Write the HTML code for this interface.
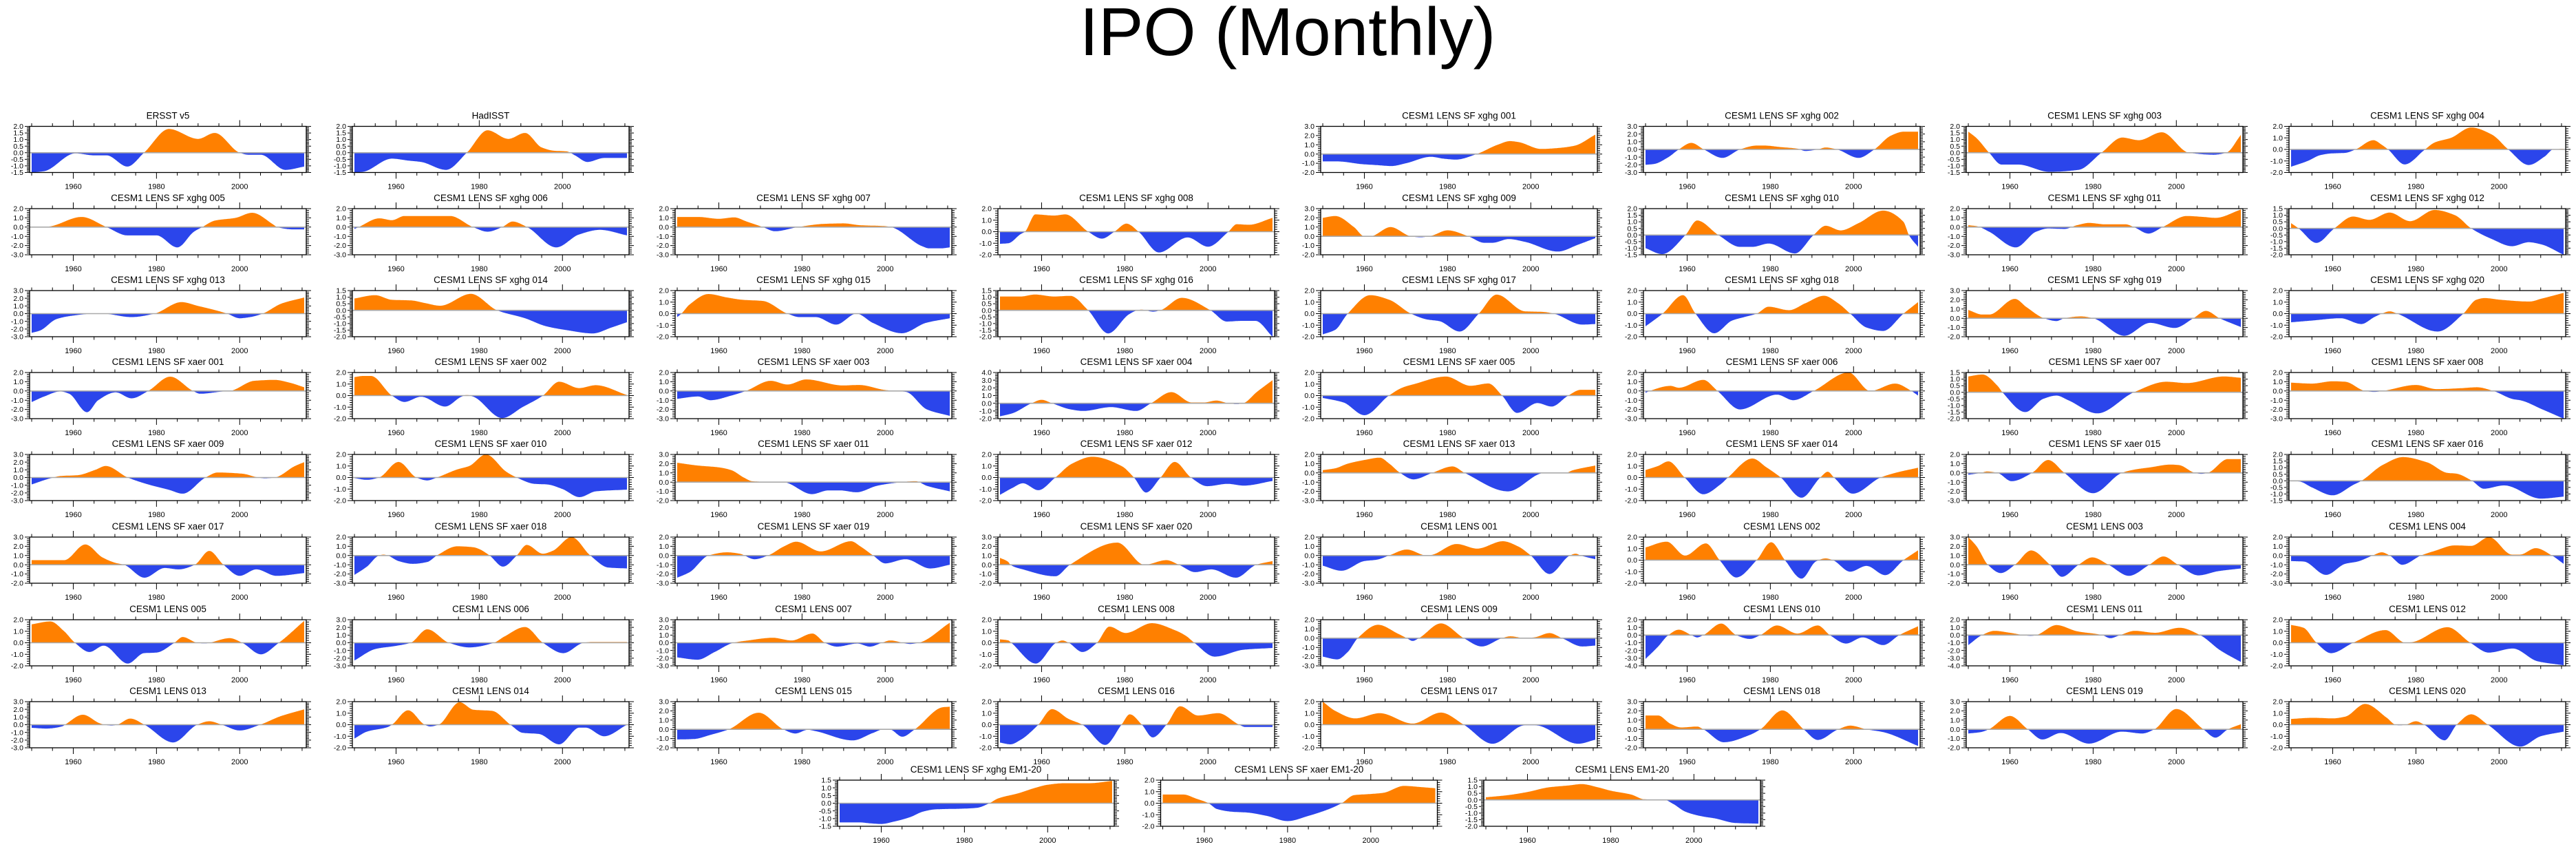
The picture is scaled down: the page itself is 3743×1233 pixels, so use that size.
<!DOCTYPE html>
<html><head><meta charset="utf-8"><title>IPO (Monthly)</title>
<style>
html,body{margin:0;padding:0;background:#fff;}
svg{display:block;font-family:"Liberation Sans",Arial,sans-serif;}
</style></head>
<body>
<svg id="fig" xmlns="http://www.w3.org/2000/svg" width="3743" height="1233" viewBox="0 0 3743 1233">
<rect x="0" y="0" width="3743" height="1233" fill="#fff"/>
<text x="1871" y="80" font-size="98" text-anchor="middle" fill="#000">IPO (Monthly)</text>
<g id="panels"></g>
</svg>
<script>
const panelNames = ["ERSST v5","HadISST","CESM1 LENS SF xghg 001","CESM1 LENS SF xghg 002","CESM1 LENS SF xghg 003","CESM1 LENS SF xghg 004",
"CESM1 LENS SF xghg 005","CESM1 LENS SF xghg 006","CESM1 LENS SF xghg 007","CESM1 LENS SF xghg 008","CESM1 LENS SF xghg 009","CESM1 LENS SF xghg 010","CESM1 LENS SF xghg 011","CESM1 LENS SF xghg 012",
"CESM1 LENS SF xghg 013","CESM1 LENS SF xghg 014","CESM1 LENS SF xghg 015","CESM1 LENS SF xghg 016","CESM1 LENS SF xghg 017","CESM1 LENS SF xghg 018","CESM1 LENS SF xghg 019","CESM1 LENS SF xghg 020",
"CESM1 LENS SF xaer 001","CESM1 LENS SF xaer 002","CESM1 LENS SF xaer 003","CESM1 LENS SF xaer 004","CESM1 LENS SF xaer 005","CESM1 LENS SF xaer 006","CESM1 LENS SF xaer 007","CESM1 LENS SF xaer 008",
"CESM1 LENS SF xaer 009","CESM1 LENS SF xaer 010","CESM1 LENS SF xaer 011","CESM1 LENS SF xaer 012","CESM1 LENS SF xaer 013","CESM1 LENS SF xaer 014","CESM1 LENS SF xaer 015","CESM1 LENS SF xaer 016",
"CESM1 LENS SF xaer 017","CESM1 LENS SF xaer 018","CESM1 LENS SF xaer 019","CESM1 LENS SF xaer 020","CESM1 LENS 001","CESM1 LENS 002","CESM1 LENS 003","CESM1 LENS 004",
"CESM1 LENS 005","CESM1 LENS 006","CESM1 LENS 007","CESM1 LENS 008","CESM1 LENS 009","CESM1 LENS 010","CESM1 LENS 011","CESM1 LENS 012",
"CESM1 LENS 013","CESM1 LENS 014","CESM1 LENS 015","CESM1 LENS 016","CESM1 LENS 017","CESM1 LENS 018","CESM1 LENS 019","CESM1 LENS 020",
"CESM1 LENS SF xghg EM1-20","CESM1 LENS SF xaer EM1-20","CESM1 LENS EM1-20"];

const yMin = [-1.5,-1.5,-2,-3,-1.5,-2, -3,-3,-3,-2,-2,-1.5,-3,-2, -3,-2,-2,-2,-2,-2,-2,-2, -3,-2,-3,-2,-2,-3,-2,-3,
 -3,-2,-2,-2,-3,-2,-3,-1.5, -2,-3,-3,-2,-3,-2,-2,-3, -2,-3,-3,-2,-3,-4,-4,-2, -3,-2,-2,-2,-2,-2,-2,-2, -1.5,-2,-2];
const yMax = [2,2,3,3,2,2, 2,2,2,2,3,2,2,1.5, 3,1.5,2,1.5,2,2,3,2, 2,2,2,4,2,2,1.5,2,
 3,2,3,2,2,2,2,2, 3,2,2,3,2,2,3,2, 2,3,3,2,2,2,2,2, 3,2,3,2,2,3,3,2, 1.5,2,1.5];

const xTickYears = [1960,1980,2000];
const xMinorYears = [1950,1955,1965,1970,1975,1985,1990,1995,2005,2010,2015];

const keyYears = [
[1950,1953,1960.5,1965,1968,1973,1977,1983,1990,1994,2000,2002,2005,2011,2015.5],
[1950,1952,1959,1963,1966,1972,1977,1982,1987,1991,1995,1998,2001,2003,2006,2010,2015.5],
[1950,1953.5,1959.5,1963,1966.5,1970,1976,1979,1982,1987,1992,1995,1997,2002.5,2006.5,2010.5,2015.5],
[1950,1952,1955.5,1958,1961,1964,1968.5,1972.7,1976.7,1978.6,1982.5,1986.5,1988.4,1991.4,1993.3,1996,2001.2,2005,2009,2012,2015.5],
[1950,1952,1955,1958,1962,1969.5,1976.5,1982,1987,1991,1996.5,2003,2009,2012,2015.5],
[1950,1954,1957,1959.6,1963,1965.5,1969.8,1971.8,1973.3,1977.3,1982.2,1984.5,1988.4,1993.3,1998.2,2002.2,2007.1,2011,2013,2015.5],
[1950,1954,1962,1968,1973,1980,1985,1989,1991,1994,1999,2003,2008,2009,2013,2015.5],
[1950,1951,1956,1959,1962,1973,1978.5,1982,1985.5,1988,1991.5,1998.5,2004,2009,2015.5],
[1950,1955,1960,1963.7,1966.7,1970.6,1973.5,1979,1985.3,1990,1994,2000,2001.4,2009,2010.5,2013.5,2015.5],
[1950,1952,1955,1956,1958.5,1963,1965.7,1971.2,1974.5,1977.5,1980.4,1983.3,1988.2,1995.1,2000,2004.9,2006.9,2009.8,2015.5],
[1950,1953,1957.5,1960,1961.4,1966.3,1971.2,1973.5,1976,1980,1985,1988.8,1990.8,1994.7,1998.6,2006.5,2011.4,2015.5],
[1950,1954,1959.6,1962.4,1967.5,1972.7,1975.7,1979.6,1985.9,1990.4,1993.3,1996.9,2001.2,2007.1,2012,2013.3,2015.5],
[1950,1952,1955,1961.4,1966.3,1969.2,1973.1,1976.1,1979,1982.9,1987.8,1989.8,1993.3,1996.7,2002.5,2006.5,2009.4,2015.5],
[1950,1951.8,1956.1,1960.4,1964.9,1968.8,1973.7,1978.6,1984.5,1989.4,1993.3,1998.2,2003.1,2007.1,2010,2015.5],
[1950,1952,1956,1960,1965,1967,1974,1979.5,1986,1990,1994.5,1997,2000,2002.5,2005.5,2010,2015.5],
[1950,1955,1959,1963.7,1967,1970.6,1978,1984.3,1991,1996,2001,2007.3,2011.8,2015.5],
[1950,1951,1953,1957.5,1962,1965.7,1970.6,1976.5,1979.4,1983.3,1988.2,1993.1,1997,2004,2009.8,2015.5],
[1950,1955,1958.4,1963,1966.9,1971.2,1976,1981,1983,1984,1986.8,1988.5,1993.7,2000.6,2004.5,2008,2011.4,2015.5],
[1950,1953,1956,1961.4,1966,1971.2,1975,1978,1982.9,1987.5,1991.8,1998.6,2003,2005.5,2012.4,2015.5],
[1950,1954.1,1959,1962,1966.5,1970.8,1973.7,1976.7,1979.6,1984.5,1988.4,1992.9,1996.3,1999.2,2003.1,2007.1,2012,2015.5],
[1950,1953.4,1955,1961.2,1964,1968.2,1971.2,1973.1,1977.1,1980,1987.5,1993.7,1999.6,2004.1,2007.1,2010.4,2015.5],
[1950,1955,1961.9,1966.9,1970,1971.8,1973.7,1975.5,1985.2,1991.4,1994.5,1996.5,2000.4,2007.3,2010.2,2015.5],
[1950,1953,1956.9,1959,1963.3,1966,1970.2,1974,1978,1983.3,1988.8,1990.5,1996,1997.6,2003.5,2008.4,2012,2015.5],
[1950,1952,1954,1959,1962,1966,1971.8,1975.7,1977,1978.6,1985.5,1990.4,1995.3,1999.2,2004,2008,2015.5],
[1950,1955,1958,1963,1966.5,1972.5,1976.5,1981,1989.8,1993.7,2000,2005,2010,2015.5],
[1950,1953,1957.6,1960,1962.5,1967,1970,1976.7,1982.7,1986.3,1991.2,1996.1,1999,2002,2004.9,2006.9,2008.4,2011.8,2015.5],
[1950,1955,1960,1965.9,1969.2,1972,1979.6,1985.5,1989.8,1993.1,1996.7,2001.6,2005,2009,2012,2015.5],
[1950,1951,1956,1958,1963.9,1967.3,1972.7,1981.6,1985.5,1990.4,1998.8,2004,2010,2013.9,2015.5],
[1950,1953.4,1957,1958.2,1963.7,1968,1971.2,1974,1981,1989.8,1997.6,2002.5,2011.4,2015.5],
[1950,1955,1960,1963,1967.8,1970,1972,1980,1985,1990.8,1994.7,1998.6,2003.5,2005,2010.4,2015.5],
[1950,1954.5,1957,1961,1965.3,1967.8,1973.1,1978,1983,1986.3,1991.8,1994.7,2000.6,2004.5,2006,2008.4,2013.3,2015.5],
[1950,1953,1955.9,1960.6,1964.9,1967.5,1969.8,1974.7,1977.6,1981.6,1986.5,1989,1993.3,1996.3,2000,2004.1,2008,2015.5],
[1950,1954.9,1960,1963,1966,1968,1970,1975.5,1982.4,1986.3,1989.2,1993.1,1998,2002,2007.3,2010,2015.5],
[1950,1953,1955.5,1959.2,1963.3,1967.3,1972.2,1979.2,1982.2,1985.1,1988.6,1992,1995.9,1999.8,2004.7,2008.6,2015.5],
[1950,1953,1956,1960,1963.7,1966,1968.6,1971.8,1976.3,1981.2,1984.1,1994.5,2003.3,2008,2010.2,2015.5],
[1950,1953,1955.5,1959.4,1963.9,1968,1969.8,1975.7,1979,1982.5,1987.5,1992,1993.8,1995.3,1999.8,2006.5,2010,2015.5],
[1950,1953,1954.5,1957,1960.4,1965.3,1969.2,1973.1,1980,1986.9,1989.8,1993.7,1998.6,2000.6,2004.5,2006,2007.5,2012.4,2015.5],
[1950,1952,1955,1960,1965,1966.9,1972,1976.9,1982.7,1987.6,1989.6,1993.5,1996.3,2001.2,2010,2015.5],
[1950,1955,1957.8,1962.9,1967,1970.2,1972.2,1977.1,1982,1985.3,1989.2,1992.7,1996.1,2000,2004,2008.8,2015.5],
[1950,1953,1955.9,1957,1958,1960.6,1964,1967.5,1969.8,1974.7,1978.6,1980,1982.5,1985.7,1989,1991.4,1995.3,1997.6,2002.2,2006.7,2011,2015.5],
[1950,1953,1957.5,1962,1965,1968.6,1971.8,1975.7,1978.6,1984.5,1991.8,1994,1997.1,2000,2004.9,2010.8,2015.5],
[1950,1952,1952.5,1955.5,1963.3,1966.8,1978.2,1984.7,1990,1993,1996.9,2000.8,2006.7,2011.6,2015.5],
[1950,1954.5,1960,1963,1965.9,1970.2,1975,1976,1982.2,1987.1,1993.3,1996.9,2000,2004.5,2009.4,2010.8,2012,2015.5],
[1950,1955.1,1959.5,1964.5,1967.8,1971.8,1976.7,1980.2,1983.5,1987.5,1991,1993.3,1995,1999.2,2003.1,2007.6,2012,2015.5],
[1950,1952,1954.7,1957.8,1961.2,1965.1,1969.6,1972.5,1976.5,1979.8,1983.7,1988.6,1993.5,1996.9,2000.4,2005.3,2010,2015.5],
[1950,1953,1958.4,1963,1966,1969.6,1971.8,1973.7,1976.7,1981.2,1984.5,1989.4,1993.3,1997.6,2003.1,2005,2008.8,2012.7,2015.5],
[1950,1954.5,1957.8,1960.4,1963.9,1967.3,1973.1,1977,1980,1984.3,1986.3,1989.8,1991.5,1997.6,2000.6,2005.1,2009.4,2015.5],
[1950,1955.1,1960,1963.5,1967.5,1972.7,1977.6,1983.5,1986,1991,1995.3,2000.2,2005.1,2007,2015.5],
[1950,1954.9,1959,1963.5,1967,1973,1977.5,1982.5,1985.5,1988.4,1993.3,1996.3,1999.2,2001.2,2006,2008,2015.5],
[1950,1952,1952.7,1958.6,1963.5,1965,1966.5,1969.8,1973.3,1976.3,1980.2,1986.5,1992,1994.7,1996.7,2001.6,2008.6,2015.5],
[1950,1953.5,1956,1958.4,1963.3,1968,1970.2,1971.6,1973.1,1978.4,1983.9,1988.2,1993.1,1995.1,1998.6,2001,2004.5,2007.5,2012.4,2015.5],
[1950,1953,1955.5,1958,1961,1962.4,1963.9,1968.2,1971.8,1975.1,1977.6,1981.6,1986.5,1991.4,1994.3,1998.2,2002.2,2007.1,2011,2015.5],
[1950,1953.3,1956.3,1960,1963.3,1965,1966.3,1971.2,1976.1,1982.2,1984.1,1986.5,1990,1994.9,2000.8,2005.7,2010.6,2015.5],
[1950,1953,1956.1,1959.6,1964.9,1972.7,1977.5,1979,1987.6,1993.1,1997.5,2003.3,2009.2,2015.5],
[1950,1953.5,1957.4,1958,1962.3,1966.3,1967.5,1969.2,1970.5,1973.7,1977.1,1984,1989.8,1992.7,1995.7,2000,2004.9,2009.8,2015.5],
[1950,1953,1958,1959,1962.9,1966.9,1968.2,1970.2,1975.3,1978.6,1983.1,1987.5,1990.4,1994.3,1999.2,2004.1,2005.5,2010,2015.5],
[1950,1954,1958,1962.4,1969.6,1975.5,1978.4,1981.4,1983.3,1992.2,1997,1999.6,2001,2004.1,2007.1,2013.9,2015.5],
[1950,1952.5,1955,1959.2,1962.5,1966.5,1969.8,1975.3,1979.2,1981.2,1984.1,1986.7,1990,1993.3,1997.6,2002.5,2007.5,2009,2015.5],
[1950,1953,1957.8,1963.7,1971.6,1978.4,1983.9,1990.8,1998.6,2001,2011.4,2015.5],
[1950,1953,1956,1958.6,1962.4,1963.9,1968.8,1975.1,1977.6,1982.9,1988,1991.4,1996.3,1999.2,2003.1,2007.1,2015.5],
[1950,1953,1954.9,1960,1964.3,1967.8,1972.2,1979,1986.9,1991.8,1994.7,2000,2006.5,2009.4,2012.4,2015.5],
[1950,1955.3,1960,1963,1967.8,1973,1975.1,1976,1977.5,1980,1982,1986.9,1989.8,1993.3,1997.3,2005.1,2010,2015.5],
[1950,1955,1957,1960,1963,1967,1970,1973,1980,1983,1986,1988,1993,1997,2000,2004,2010,2015.5],
[1950,1955,1958,1961,1963,1967,1970,1975,1980,1985,1990,1993,1996,2000,2003,2008,2012,2015.5],
[1950,1955,1960,1965,1970,1973,1977,1980,1985,1988,1993,1995,1998,2002,2005,2010,2015.5]
];

const keyValues = [
[-1.5,-1.4,-0.05,-0.2,-0.2,-1.05,0,1.8,1.05,1.5,0,-0.15,-0.15,-1.3,-1.05],
[-1.5,-1.45,-0.45,-0.6,-0.7,-1.3,0,1.7,1.05,1.5,0.4,0.15,0.1,-0.2,-0.7,-0.4,-0.4],
[-0.8,-0.8,-1.1,-1.2,-1.3,-1.0,-0.3,-0.5,-0.6,0,1.0,1.4,1.3,0.55,0.65,0.9,2.1],
[-2.0,-1.9,-1.0,0,0.85,0,-1.1,0,0.5,0.5,0.3,0.1,-0.2,0,0.25,0,-1.1,0,1.8,2.3,2.3],
[1.6,1.1,0,-0.9,-0.9,-1.45,-1.3,0,1.15,0.95,1.55,0,-0.15,0,1.35],
[-1.5,-1.0,-0.5,-0.35,-0.3,0,0.8,0.4,0,-1.3,0,0.6,1.0,1.9,1.3,0,-1.35,-0.6,0,0.05],
[-0.05,0.05,1.1,0,-0.9,-0.9,-2.2,-0.5,0,0.7,1.0,1.55,0.3,0,-0.25,-0.25],
[-0.2,0,0.95,0.75,1.2,1.2,0,-0.5,0,0.6,0,-2.2,-0.8,-0.3,-0.9],
[1.1,1.1,0.9,1.05,0.6,0,-0.45,0,0.35,0.4,0.2,0.1,0,-2.1,-2.3,-2.3,-2.2],
[-1.05,-1.0,-0.2,0,1.5,1.4,1.5,0,-0.6,0,0.7,0,-1.8,-0.5,-1.3,0,0.65,0.6,1.2],
[2.0,2.2,1.0,0,0,1.0,0,-0.1,0.05,0.65,0,-0.7,-0.7,-0.3,-0.6,-1.65,-0.9,-0.2],
[-1.0,-1.45,0,1.1,0,-0.9,-0.9,-0.65,-1.4,0,0.7,0.35,0.9,1.85,1.0,0,-0.9],
[0.2,0.1,-0.5,-2.2,-0.5,-0.15,-0.2,0.2,0.45,0.3,0.3,0,-0.7,0,1.2,1.1,1.0,1.9],
[0.4,0,-1.1,0,0.9,0.65,1.2,0.55,1.4,1.0,0,-0.8,-1.35,-1.05,-1.2,-2.0],
[-2.5,-2.2,-0.7,-0.25,0,0,-0.45,0,1.5,1.0,0.4,0,-0.6,-0.45,0,1.3,2.1],
[0.9,1.15,0.8,0.75,0.55,0.35,1.25,0,-0.6,-1.2,-1.5,-1.75,-1.3,-0.9],
[-0.3,0,0.8,1.7,1.4,1.2,1.1,0,-0.3,-0.3,-0.95,0,-0.8,-1.7,-0.8,-0.4],
[1.05,1.05,1.2,1.05,1.1,0,-1.75,-0.3,0,0.05,-0.1,0,0.95,0,-0.85,-0.8,-0.8,-2.0],
[-1.8,-1.4,0,1.6,1.2,0,-0.5,-0.65,-1.55,0,1.65,0.2,0.15,0,-0.95,-0.9],
[-1.1,0,1.6,0,-1.7,-0.6,-0.3,0,0.6,0.3,0.9,1.55,0.9,0,-1.2,-1.5,0,1.0],
[0.9,0.4,0.4,2.1,1.2,0,-0.3,0,0.2,0,-1.9,-0.5,-1.05,0,0.8,0,-0.95],
[-0.75,-0.6,-0.4,-0.9,-0.3,0,0.2,0,-1.55,0,1.2,1.35,1.2,1.05,1.3,1.8],
[-1.2,-0.6,-0.05,-0.3,-2.3,-1.0,-0.15,-0.8,0,1.55,0,-0.3,-0.05,0,1.1,1.2,0.9,0.4],
[1.6,1.7,1.7,0,-0.55,-0.1,-0.95,-0.1,0.05,-0.1,-1.95,-1.0,0,1.2,0.65,0.9,0.05],
[-0.85,-0.6,-1.0,-0.5,0,1.1,0.7,1.25,0.6,0.65,0.1,-0.1,-2.0,-2.7],
[-1.7,-1.3,0,0.45,0,-0.8,-1.0,-0.5,-1.0,0,1.45,0.1,0.1,0.35,0,-0.1,0,1.5,3.0],
[-0.2,-0.6,-1.7,0,0.7,1.0,1.65,0.85,1.05,0,-1.5,-0.65,-0.95,0,0.5,0.5],
[-0.2,0,0.55,0.35,1.2,0,-2.0,-0.4,-1.0,0,2.0,0,0.8,0,-0.5],
[1.2,1.35,0.5,0,-1.5,-0.5,-0.25,-0.6,-1.6,0,0.8,0.7,1.2,1.1],
[0.9,0.8,1.05,1.0,0,-0.1,0,0.65,0.2,0.3,0.4,0,-0.9,-1.0,-2.0,-3.0],
[-0.9,-0.1,0.2,0.3,1.0,1.5,0,-0.9,-1.6,-2.1,0,0.65,0.5,0,-0.1,0,1.5,2.0],
[-0.05,-0.2,0,1.35,0,-0.25,0,0.7,1.0,2.0,0.5,0,-0.55,-0.6,-1.0,-1.7,-1.2,-1.05],
[2.1,1.8,1.6,1.3,0.5,0.1,0.05,0,-1.3,-0.9,-0.9,-1.1,-0.4,-0.1,0.1,-0.4,-1.0],
[-1.5,-0.9,-0.5,-1.1,0,1.2,1.8,1.0,0,-1.3,0,1.35,0,-0.75,-0.55,-0.7,-0.3],
[0.3,0.5,1.0,1.4,1.65,1.0,0,-0.7,0,0.7,0,-2.0,0,-0.05,0.3,0.8],
[0.65,1.0,1.4,0,-1.45,-0.6,0,1.65,0.9,0,-1.75,0,0.5,0,-1.4,0,0.4,0.85],
[-0.2,0,0.15,0,-0.9,0,1.4,0,-2.2,0,0.35,0.6,0.9,0.85,0,-0.1,0,1.5,1.5],
[0,-0.05,-0.5,-1.1,-0.3,0,1.2,1.8,1.4,0.6,0.55,0,-0.6,-0.35,-1.35,-1.2],
[0.5,0.5,0.5,2.2,0.8,0.2,0,-1.4,-0.35,-0.5,0,1.5,0,-1.2,-0.5,-1.2,-0.9],
[-2.1,-1.2,0,0.1,0,-0.6,-0.9,-0.7,0,1.0,0.9,0.7,0,-1.2,0,1.15,0.2,0.5,2.0,0,-1.3,-1.4],
[-2.4,-1.8,0,0.35,0.2,-0.4,0,1.0,1.5,0.45,1.55,1.0,0,-0.85,-0.4,-1.4,-1.0],
[0.75,0.3,0,-0.5,-1.25,0,2.4,0,0.5,0,-0.8,-0.5,-1.4,0,0.4],
[-1.1,-1.65,-0.6,-0.45,0,0.65,0,0.05,1.25,0.75,1.55,1.0,0,-2.0,0,0.2,0,-0.4],
[1.1,1.6,0.4,1.45,0,-1.5,0,1.55,0,-1.6,-0.1,0.15,0,-1.0,-0.5,-1.3,0,0.85],
[3.0,2.0,0,-0.9,0,1.55,0,-1.3,0,0.8,0,-1.2,0,0.9,0,-1.15,-0.7,-0.4],
[-0.6,-0.65,-2.1,-0.9,-0.65,0,0.35,0,-1.0,0,0.5,1.1,1.05,2.0,0.1,0.1,0.8,0,-0.9],
[1.6,1.85,1.0,0,-0.8,-0.25,-1.8,-0.9,-0.85,0,0.5,0,-0.05,0.4,0,-1.0,0,1.9],
[-2.3,-0.8,-0.4,0,1.75,0,-0.6,0,0.8,2.05,0,-1.35,0,0.1,0.1],
[-1.9,-2.2,-1.2,0,0.3,0.65,0.3,1.2,0,-0.5,-0.1,-0.5,0,0.3,-0.15,0,2.6],
[0.3,0.2,0,-1.8,0,0.2,0,-0.8,0,1.4,0.85,1.7,1.1,0.6,0,-1.2,-0.6,-0.45],
[-2.0,-2.3,-1.5,0,1.45,0.5,0,-0.3,0,1.6,0,-0.9,0,0.2,0,0.1,0.55,0,-0.9,-0.8],
[-3.1,-1.5,0,0.7,0,-0.3,0,1.5,0,-0.5,0,1.25,0.2,1.25,0,-1.1,-0.3,-1.3,0,1.15],
[-1.3,0,0.55,0.3,0,-0.1,0,1.3,0.5,0,-0.4,0,0.55,0.3,0.95,0,-2.0,-3.5],
[1.55,1.3,0,-0.9,0,1.1,0,0.05,1.35,0,-0.85,-0.5,-1.6,-1.95],
[-0.4,-0.5,-0.2,0,1.3,0.2,0,-0.1,0,0.8,0,-2.3,0,0.45,0,-0.75,0,1.1,2.0],
[-1.2,-0.6,-0.2,0,1.25,0,-0.15,0,1.95,1.3,1.2,0,-0.7,-0.8,-1.7,-0.25,-0.25,-1.0,0],
[-1.1,-1.05,-0.6,0,1.8,0,-0.45,-0.05,-0.2,-1.2,-0.4,0,0,-0.8,0,2.4,2.45],
[-1.55,-1.7,-1.3,0,1.35,0.5,0,-1.75,0,0.9,0,-1.1,0,1.6,0.8,1.0,0,-0.2,-0.2],
[2.0,1.2,0.55,1.0,0.1,1.05,0,-1.65,-0.05,-0.05,-1.65,-1.3],
[1.5,1.5,0.6,0.2,0.3,0,-1.4,-0.6,0,2.05,0,-1.15,0,0.4,0,-0.3,-1.8],
[-0.45,-0.3,0,1.45,0,-1.1,-0.4,-1.55,-0.25,-0.45,0,2.2,0,-0.9,0,0.55],
[0.5,0.6,0.55,0.7,1.8,0.6,0,-0.05,0,0.3,0,-1.35,0,0.9,0,-1.9,-1.0,-0.6],
[-1.25,-1.25,-1.3,-1.35,-1.2,-0.9,-0.55,-0.4,-0.35,-0.3,0,0.3,0.65,1.0,1.2,1.3,1.3,1.45],
[0.75,0.75,0.4,0,-0.5,-0.75,-0.8,-1.1,-1.55,-1.1,-0.5,0,0.7,0.8,0.9,1.5,1.4,1.3],
[0.2,0.35,0.6,0.95,1.1,1.2,0.95,0.7,0.4,0.05,0,-0.3,-0.9,-1.25,-1.4,-1.75,-1.8]
];

// ---- layout (not data) ----
const SVGNS = "http://www.w3.org/2000/svg";
const rowTops = [183.5,303,422,541,660,780,900,1019];
const PW = 402, PH = 67, XMIN = 1949.5, XMAX = 2016;
function slot(i){
  if (i < 2) return {x:43+469*i, y:rowTops[0]};
  if (i < 6) return {x:43+469*(i+2), y:rowTops[0]};
  if (i < 62) { const k=i-6; return {x:43+469*(k%8), y:rowTops[1+Math.floor(k/8)]}; }
  return {x:1217+469.5*(i-62), y:1133};
}
function mk(tag, attrs, parent){
  const e = document.createElementNS(SVGNS, tag);
  for (const k in attrs) e.setAttribute(k, attrs[k]);
  parent.appendChild(e);
  return e;
}
function pchip(xs, ys){
  const n = xs.length, h=[], d=[], m=new Array(n);
  for (let i=0;i<n-1;i++){ h[i]=xs[i+1]-xs[i]; d[i]=(ys[i+1]-ys[i])/h[i]; }
  m[0]=d[0]; m[n-1]=d[n-2];
  for (let i=1;i<n-1;i++){
    if (d[i-1]*d[i] <= 0) m[i]=0;
    else { const w1=2*h[i]+h[i-1], w2=h[i]+2*h[i-1]; m[i]=(w1+w2)/(w1/d[i-1]+w2/d[i]); }
  }
  return function(x){
    let i=0; while (i<n-2 && x>xs[i+1]) i++;
    const t=(x-xs[i])/h[i], t2=t*t, t3=t2*t;
    return (2*t3-3*t2+1)*ys[i]+(t3-2*t2+t)*h[i]*m[i]+(-2*t3+3*t2)*ys[i+1]+(t3-t2)*h[i]*m[i+1];
  };
}
function fmt(v){ return (Math.abs(v)<1e-9?0:v).toFixed(1); }

const root = document.getElementById('panels');
for (let p=0; p<panelNames.length; p++){
  const s = slot(p), L=s.x, T=s.y, R=L+PW, B=T+PH;
  const lo=yMin[p], hi=yMax[p];
  const xs = yr => L + (yr-XMIN)/(XMAX-XMIN)*PW;
  const ys = v => B - (v-lo)/(hi-lo)*PH;
  const g = mk('g', {}, root);
  
  

  // clip
  const cid = 'clip'+p;
  const defs = mk('defs', {}, g);
  const cpA = mk('clipPath', {id:cid+'a'}, defs);
  mk('rect', {x:L, y:T, width:PW, height:Math.max(0,ys(0)-T)}, cpA);
  const cpB = mk('clipPath', {id:cid+'b'}, defs);
  mk('rect', {x:L, y:ys(0), width:PW, height:Math.max(0,B-ys(0))}, cpB);

  // area
  const f = pchip(keyYears[p], keyValues[p]);
  const y0 = keyYears[p][0], y1 = keyYears[p][keyYears[p].length-1];
  let d = 'M'+xs(y0).toFixed(1)+','+ys(0).toFixed(1);
  for (let yr=y0; yr<=y1+1e-6; yr+=1/12){
    let v=f(yr); v=Math.max(lo,Math.min(hi,v));
    d += 'L'+xs(yr).toFixed(1)+','+ys(v).toFixed(1);
  }
  d += 'L'+xs(y1).toFixed(1)+','+ys(0).toFixed(1)+'Z';
  const pos = mk('path', {d:d, fill:'#FF8000', 'clip-path':'url(#'+cid+'a)'}, g);
  
  
  const neg = mk('path', {d:d, fill:'#2B45EB', 'clip-path':'url(#'+cid+'b)'}, g);
  
  

  // zero line
  const zl = mk('line', {x1:L, x2:R, y1:ys(0), y2:ys(0), stroke:'#aaaaaa', 'stroke-width':1.6}, g);
  
  

  // frame
  const fr = mk('rect', {x:L, y:T, width:PW, height:PH, fill:'none', stroke:'#000', 'stroke-width':1.3}, g);
  
  

  // y ticks
  const step = (hi-lo) < 4 ? 0.5 : 1.0;
  let tk = '';
  const nMaj = Math.round((hi-lo)/step);
  for (let k=0;k<=nMaj;k++){
    const v = lo + k*step, yy=ys(v);
    tk += 'M'+(L-7)+','+yy+'H'+L+'M'+R+','+yy+'H'+(R+7);
    const t = mk('text', {x:L-9, y:yy+3.6, 'font-size':10.5, 'text-anchor':'end', fill:'#000'}, g);
    t.textContent = fmt(v);
    
    
  }
  const minorStep = step/5;
  const nMin = Math.round((hi-lo)/minorStep);
  for (let k=0;k<=nMin;k++){
    if (k%5===0) continue;
    const yy = ys(lo+k*minorStep);
    tk += 'M'+(L-4)+','+yy+'H'+L+'M'+R+','+yy+'H'+(R+4);
  }
  // x ticks
  for (const yr of xTickYears){
    const xx = xs(yr);
    tk += 'M'+xx+','+(T-9)+'V'+T+'M'+xx+','+B+'V'+(B+9);
    const t = mk('text', {x:xx, y:B+24, 'font-size':11, 'text-anchor':'middle', fill:'#000'}, g);
    t.textContent = String(yr);
    
    
  }
  for (const yr of xMinorYears){
    const xx = xs(yr);
    tk += 'M'+xx+','+(T-4.5)+'V'+T+'M'+xx+','+B+'V'+(B+4.5);
  }
  const tp = mk('path', {d:tk, stroke:'#000', 'stroke-width':1, fill:'none'}, g);
  
  

  // title
  const tt = mk('text', {x:L+PW/2, y:T-11, 'font-size':13.5, 'text-anchor':'middle', fill:'#000'}, g);
  tt.textContent = panelNames[p];
  
  
}
</script>
</body></html>
